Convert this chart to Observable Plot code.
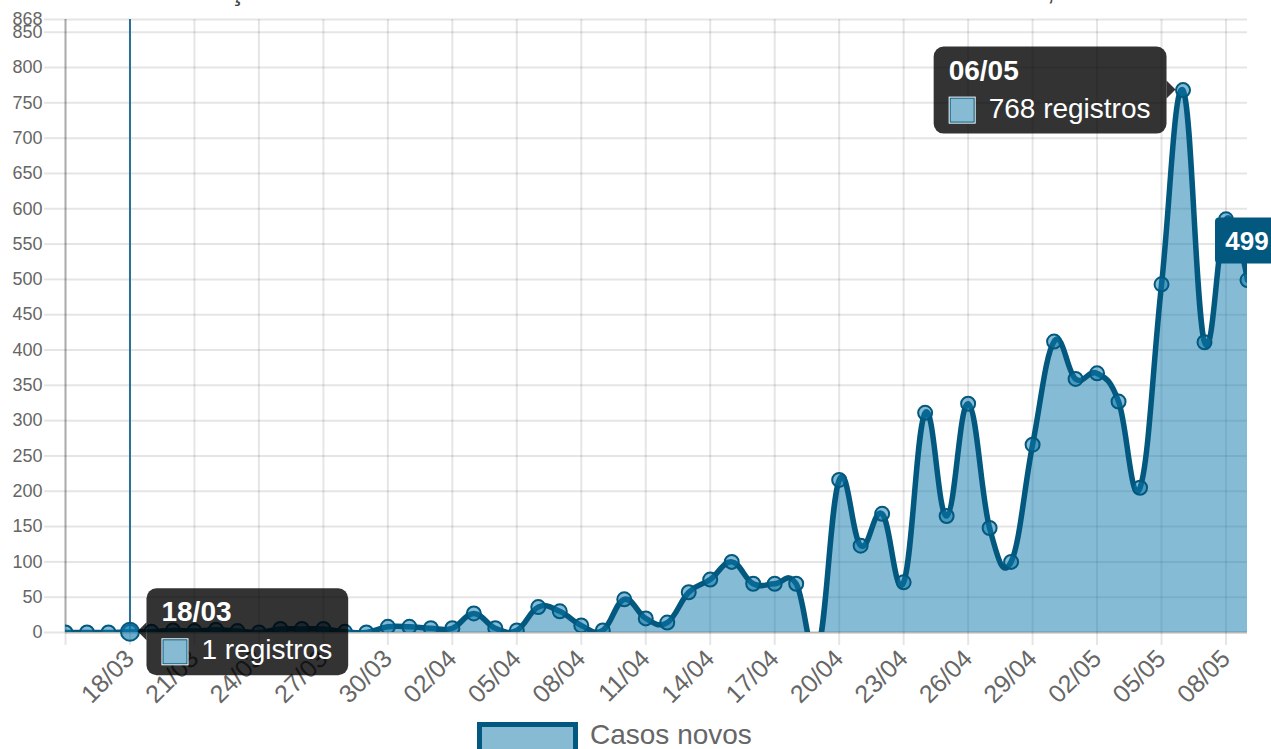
<!DOCTYPE html>
<html>
<head>
<meta charset="utf-8">
<script src="https://cdn.jsdelivr.net/npm/d3@7"></script>
<script src="https://cdn.jsdelivr.net/npm/@observablehq/plot@0.6"></script>
<style>
  html, body { margin: 0; padding: 0; background: #fff; }
  body { width: 1271px; height: 749px; overflow: hidden; position: relative; font-family: "Liberation Sans", Arial, sans-serif; }
  #titulo { position: absolute; top: -22px; left: 15px; font-size: 28px; line-height: 26px; color: #444; white-space: nowrap; }
  #chart svg { display: block; }
  #legenda { display: flex; align-items: flex-start; margin-left: 477px; margin-top: 7px; height: 34px; }
  #legenda .caixa { width: 91px; height: 30px; border: 5px solid #03587f; background: #86bbd3; }
  #legenda .texto { margin-left: 12px; font-size: 28px; line-height: 30px; color: #666; margin-top: -2px; }
</style>
</head>
<body>
<div id="titulo">Gráfico 1 – Evolução diária de casos confirmados de COVID-19 no Estado do Pará, 2020</div>
<div id="chart"></div>
<div id="legenda"><div class="caixa"></div><div class="texto">Casos novos</div></div>
<script>
// ---- data ----
const ano = 2020;
const dias = [
  "15/03","16/03","17/03","18/03","19/03","20/03","21/03","22/03","23/03","24/03",
  "25/03","26/03","27/03","28/03","29/03","30/03","31/03",
  "01/04","02/04","03/04","04/04","05/04","06/04","07/04","08/04","09/04","10/04",
  "11/04","12/04","13/04","14/04","15/04","16/04","17/04","18/04","19/04","20/04",
  "21/04","22/04","23/04","24/04","25/04","26/04","27/04","28/04","29/04","30/04",
  "01/05","02/05","03/05","04/05","05/05","06/05","07/05","08/05","09/05"
];
const casosNovos = [
  0, 0, 0, 1, 1, 3, 2, 4, 2, 0,
  5, 5, 5, 1, 0, 8, 8,
  6, 6, 27, 6, 3, 36, 30, 10, 3, 47,
  20, 14, 57, 75, 100, 69, 69, 69, -25, 216,
  123, 168, 71, 311, 165, 324, 148, 100, 266, 412,
  359, 367, 327, 205, 493, 768, 411, 585, 499
];
const yTicks = [0, 50, 100, 150, 200, 250, 300, 350, 400, 450, 500, 550, 600, 650, 700, 750, 800, 850, 868];
const xTicks = ["15/03","18/03","21/03","24/03","27/03","30/03","02/04","05/04","08/04","11/04","14/04","17/04","20/04","23/04","26/04","29/04","02/05","05/05","08/05"];
const destaques = ["18/03", "06/05"];   // tooltips shown
const rotuloFinal = "09/05";            // value label at the end
const serieNome = "Casos novos";
const unidade = "registros";

// ---- build ----
const parse = d3.utcParse("%d/%m/%Y");
const toDate = s => parse(`${s}/${ano}`);
const fmt = d3.utcFormat("%d/%m");
const data = dias.map((d, i) => ({dia: d, date: toDate(d), value: casosNovos[i]}));
const firstTick = toDate(xTicks[0]);

const areaColor = "rgb(11,120,170)";
const lineColor = "#03587f";
const curveOpts = {curve: "cardinal", tension: -0.2};
const font = "'Liberation Sans', Arial, sans-serif";

function annotations(index, scales) {
  const g = d3.create("svg:g").attr("font-family", font).attr("text-anchor", "start");
  destaques.forEach((dia) => {
    const d = data.find(e => e.dia === dia);
    const px = scales.x(d.date), py = scales.y(d.value);
    const label = `${d.value} ${unidade}`;
    const canvas = document.createElement("canvas").getContext("2d");
    canvas.font = `28px ${font}`;
    const tw = canvas.measureText(label).width;
    const w = 15 + 27 + 13 + tw + 16, h = 87;
    const right = px > scales.x(data[Math.floor(data.length / 2)].date);
    const bx = right ? px - 16 - w : px + 17;
    const by = py - 43;
    const tip = g.append("g");
    const caret = right
      ? `M${bx + w},${py - 9} L${px - 7},${py} L${bx + w},${py + 9} Z`
      : `M${bx},${py - 9} L${px + 8},${py} L${bx},${py + 9} Z`;
    tip.append("path").attr("d", caret).attr("fill", "rgba(0,0,0,0.8)");
    tip.append("rect").attr("x", bx).attr("y", by).attr("width", w).attr("height", h)
      .attr("rx", 10).attr("fill", "rgba(0,0,0,0.8)");
    tip.append("text").attr("x", bx + 15).attr("y", py - 10).attr("fill", "#fff")
      .attr("text-anchor", "start").attr("font-size", 28).attr("font-weight", "bold").text(dia);
    tip.append("rect").attr("x", bx + 15).attr("y", py + 7).attr("width", 27).attr("height", 27)
      .attr("fill", "#fff");
    tip.append("rect").attr("x", bx + 16.5).attr("y", py + 8.5).attr("width", 24).attr("height", 24)
      .attr("fill", "#86bbd3").attr("stroke", lineColor).attr("stroke-width", 1);
    tip.append("text").attr("x", bx + 55).attr("y", py + 28).attr("fill", "#fff")
      .attr("text-anchor", "start").attr("font-size", 28).text(label);
  });
  const f = data.find(e => e.dia === rotuloFinal);
  const fx = scales.x(f.date), fy = scales.y(f.value);
  g.append("rect").attr("x", fx - 32).attr("y", fy - 62).attr("width", 64).attr("height", 46)
    .attr("rx", 4).attr("fill", lineColor);
  g.append("text").attr("x", fx).attr("y", fy - 30).attr("text-anchor", "middle")
    .attr("fill", "#fff").attr("font-size", 26).attr("font-weight", "bold").text(String(f.value));
  return g.node();
}

const hoverPoint = data.filter(e => e.dia === destaques[0]);

const chart = Plot.plot({
  width: 1271,
  height: 715,
  marginLeft: 65,
  marginRight: 24,
  marginTop: 19,
  marginBottom: 83,
  style: {fontFamily: font, background: "#fff"},
  x: {type: "utc", domain: [data[0].date, data[data.length - 1].date]},
  y: {domain: [0, 868]},
  marks: [
    Plot.gridX(xTicks.map(toDate), {stroke: "#000", strokeOpacity: 0.1, strokeWidth: 2}),
    Plot.gridY(yTicks, {stroke: "#000", strokeOpacity: 0.1, strokeWidth: 2}),
    Plot.axisY(yTicks, {tickSize: 21, tickPadding: 2, stroke: "#000", strokeOpacity: 0.1, strokeWidth: 2,
      fill: "#666", fontSize: 18, label: null}),
    Plot.axisX(xTicks.map(toDate), {tickSize: 13, tickPadding: 9, tickRotate: -45,
      stroke: "#000", strokeOpacity: 0.1, strokeWidth: 2, fill: "#666", fontSize: 25, label: null,
      tickFormat: d => (+d === +firstTick ? "" : fmt(d))}),
    Plot.ruleX([data[0].date], {y1: 0, y2: 868, stroke: "#000", strokeOpacity: 0.25, strokeWidth: 2}),
    Plot.ruleY([0], {stroke: "#000", strokeOpacity: 0.2, strokeWidth: 2}),
    Plot.areaY(data, {x: "date", y: "value", ...curveOpts, fill: areaColor, fillOpacity: 0.5, clip: true}),
    Plot.ruleX(hoverPoint, {x: "date", y1: 0, y2: 868, stroke: "#2a6e96", strokeWidth: 2}),
    Plot.lineY(data, {x: "date", y: "value", ...curveOpts, stroke: lineColor, strokeWidth: 5.5, clip: true}),
    Plot.dot(data, {x: "date", y: "value", r: 7, fill: areaColor, fillOpacity: 0.5,
      stroke: lineColor, strokeWidth: 2, clip: true}),
    Plot.dot(hoverPoint, {x: "date", y: "value", r: 9, fill: areaColor, fillOpacity: 0.6,
      stroke: lineColor, strokeWidth: 2}),
    annotations
  ]
});
document.getElementById("chart").appendChild(chart);
</script>
</body>
</html>
